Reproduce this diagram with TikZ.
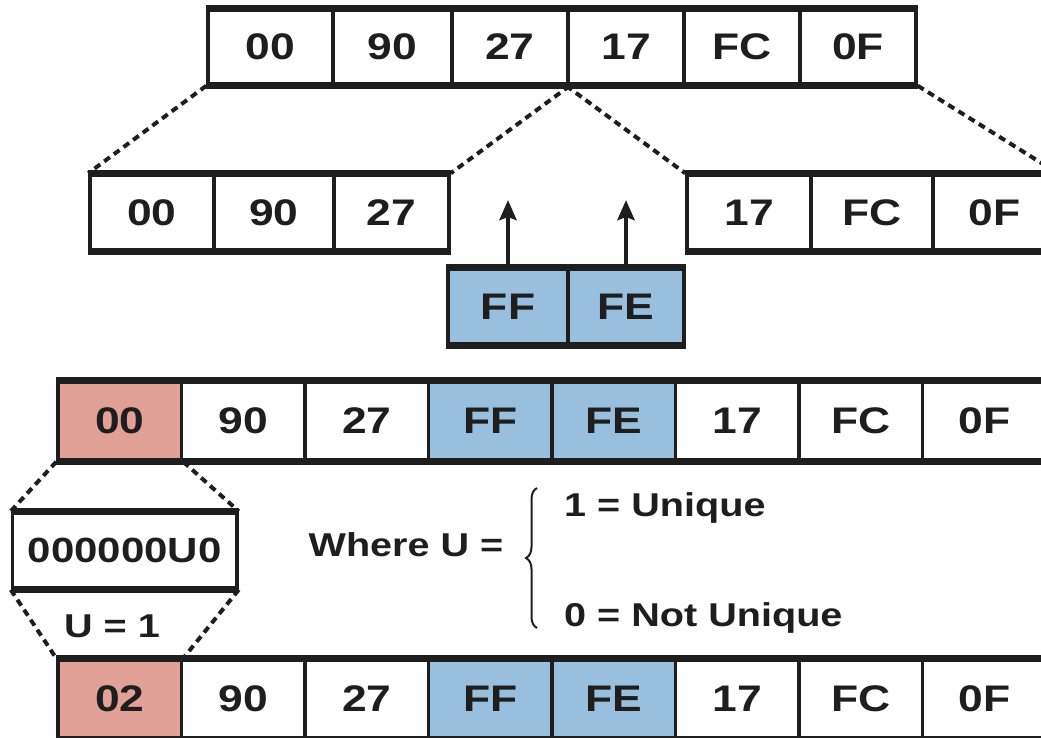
\documentclass[tikz,border=0pt]{standalone}
\usepackage{fontspec}
\setmainfont{Liberation Sans}[FakeStretch=1.2]
\usetikzlibrary{arrows.meta,decorations.pathreplacing}
\definecolor{pinkcell}{RGB}{226,161,150}
\definecolor{bluecell}{RGB}{152,192,222}
\definecolor{ink}{RGB}{30,30,30}
\tikzset{
  cell/.style={draw=ink, line width=3.5pt, inner sep=0pt, text=ink,
    font=\fontsize{37}{40}\selectfont\bfseries},
  thickrule/.style={draw=ink, line width=6pt},
  dashline/.style={draw=ink, line width=4pt, dash pattern=on 7pt off 5pt},
  upline/.style={draw=ink, line width=4.5pt, -{Stealth[length=20pt,width=17pt,inset=3pt]}},
  label/.style={inner sep=0pt, text=ink, font=\fontsize{33}{36}\selectfont\bfseries},
}
\begin{document}
\begin{tikzpicture}[x=1pt,y=-1pt]
\useasboundingbox (0,0) rectangle (1041,737);
\clip (0,0) rectangle (1041,737);
% Row A
\foreach \n/\x/\w/\t in {1/270.5/125/00,2/392.5/119/90,3/510/116/27,4/626/116/17,5/742/116/FC,6/858/116/0F}
  \node[cell, minimum width=\w pt, minimum height=74pt] (t\n) at (\x,47) {\t};
\draw[thickrule] (t1.north west) -- (t6.north east);
\draw[thickrule] (t1.south west) -- (t6.south east);
% Row B left
\foreach \n/\x/\w/\t in {1/152/124/00,2/274/120/90,3/391.5/115/27}
  \node[cell, minimum width=\w pt, minimum height=75pt] (l\n) at (\x,212.5) {\t};
\draw[thickrule] (l1.north west) -- (l3.north east);
\draw[thickrule] (l1.south west) -- (l3.south east);
% Row B right
\foreach \n/\x/\w/\t in {1/749/124/17,2/872/122/FC,3/994.5/123/0F}
  \node[cell, minimum width=\w pt, minimum height=75pt] (r\n) at (\x,212.5) {\t};
\draw[thickrule] (r1.north west) -- (r3.north east);
\draw[thickrule] (r1.south west) -- (r3.south east);
% Blue inserted bytes
\node[cell, fill=bluecell, minimum width=120pt, minimum height=75pt] (b1) at (508,306.5) {FF};
\node[cell, fill=bluecell, minimum width=116pt, minimum height=75pt] (b2) at (626,306.5) {FE};
\draw[thickrule] (b1.north west) -- (b2.north east);
\draw[thickrule] (b1.south west) -- (b2.south east);
\coordinate (a1) at (508,200);
\coordinate (a2) at (626,200);
\draw[upline] (b1.north) -- (a1);
\draw[upline] (b2.north) -- (a2);
% Dashed connectors top
\draw[dashline] (t1.south west) -- (l1.north west);
\draw[dashline] (t3.south east) -- (l3.north east);
\draw[dashline] (t4.south west) -- (r1.north west);
\draw[dashline] (t6.south east) -- (r3.north east);
% Row C
\foreach \n/\t/\f in {1/00/pinkcell,2/90/white,3/27/white,4/FF/bluecell,5/FE/bluecell,6/17/white,7/FC/white,8/0F/white}
  \node[cell, fill=\f, minimum width=123.5pt, minimum height=78pt] (c\n) at ({58+123.5*(\n-0.5)},421) {\t};
\draw[thickrule] (c1.north west) -- (c8.north east);
\draw[thickrule] (c1.south west) -- (c8.south east);
% Row D
\foreach \n/\t/\f in {1/02/pinkcell,2/90/white,3/27/white,4/FF/bluecell,5/FE/bluecell,6/17/white,7/FC/white,8/0F/white}
  \node[cell, fill=\f, minimum width=123.5pt, minimum height=78pt] (d\n) at ({58+123.5*(\n-0.5)},699) {\t};
\draw[thickrule] (d1.north west) -- (d8.north east);
\draw[thickrule] (d1.south west) -- (d8.south east);
% Small box
\node[cell, minimum width=224.5pt, minimum height=75pt, font=\fontsize{35}{38}\selectfont\bfseries] (s) at (124.75,550.5) {000000U0};
\draw[thickrule] (s.north west) -- (s.north east);
\draw[thickrule] (s.south west) -- (s.south east);
\draw[dashline] (c1.south west) -- (s.north west);
\draw[dashline] (c1.south east) -- (s.north east);
\draw[dashline] (s.south west) -- (d1.north west);
\draw[dashline] (s.south east) -- (d1.north east);
\node[label] (u1) at (112,626) {U = 1};
% Where U =
\node[label] (where) at (406,545) {Where U =};
\coordinate (brtop) at (537,488);
\coordinate (brbot) at (537,628);
\draw[draw=ink, line width=2pt, decorate, decoration={brace, amplitude=11pt}] (brbot) -- (brtop);
\node[label, anchor=west] (uniq) at (564,507.5) {1 = Unique};
\node[label, anchor=west] (notuniq) at (564,618) {0 = Not Unique};
\end{tikzpicture}
\end{document}
